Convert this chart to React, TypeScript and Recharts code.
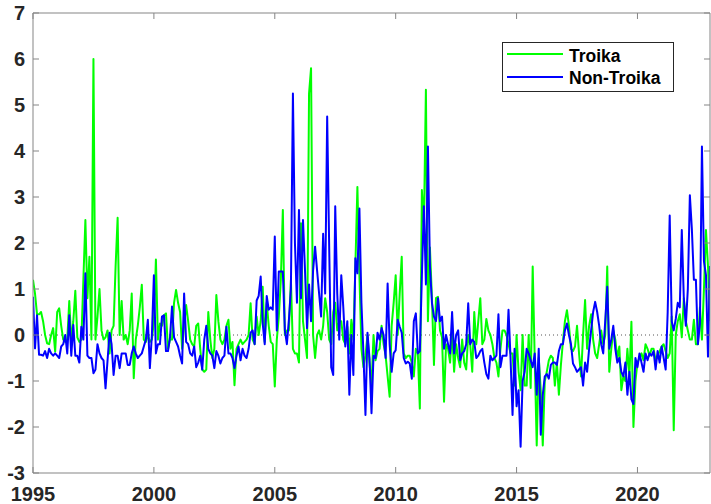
import React from "react";
import { LineChart, Line, XAxis, YAxis, ReferenceLine } from "recharts";

const START_YEAR = 1995;
const X_TICKS = [1995, 2000, 2005, 2010, 2015, 2020];
const Y_TICKS = [-3, -2, -1, 0, 1, 2, 3, 4, 5, 6, 7];

// Monthly values, Jan 1995 onwards
const troika: number[] = [
  1.2, 0.9, 0.45, 0.45, 0.5, 0.3, 0.0, -0.18, -0.2, 0.0, 0.15, -0.36,
  0.5, 0.58, 0.2, -0.1, -0.15, -0.1, 0.74, -0.15, 0.3, 0.96, -0.05, -0.15,
  -0.1, 1.2, 2.5, 0.8, 1.7, -0.1, 6.0, -0.1, 0.4, 1.0, 0.1, -0.1,
  -0.05, 0.1, -0.4, 0.1, 0.2, 1.5, 2.55, 0.0, 0.74, -0.1, 0.0, -0.2,
  0.1, 0.9, -0.94, -0.1, 0.2, 0.6, 1.09, -0.1, -0.15, 0.0, -0.15, -0.1,
  0.3, 1.64, -0.1, 0.25, 0.2, 0.43, 0.47, -0.3, -0.1, -0.1, 0.7, 0.98,
  0.7, 0.5, -0.3, 0.2, 0.65, 0.3, -0.1, -0.2, -0.25, 0.2, 0.25, -0.3,
  -0.75, -0.8, -0.75, 0.5, -0.1, -0.5, -0.3, 0.87, 0.3, -0.1, -0.2, -0.1,
  0.2, 0.33, -0.3, -0.15, -1.09, -0.3, -0.2, -0.1, -0.2, -0.15, -0.1, 0.0,
  0.69, -0.1, -0.2, 0.4, 0.0, 0.3, 1.05, -0.15, 0.7, 0.2, -0.15, -0.2,
  -1.12, -0.1, 0.4, 1.2, 2.72, 0.0, 0.1, 0.1, 1.2, -0.3, -0.4, -0.4,
  -0.6, 2.43, 0.3, -0.1, -0.5, 5.25, 5.8, 0.0, -0.5, 0.0, 0.1, -0.1,
  0.2, 0.8, 0.5, -0.1, -0.2, 0.5, 0.7, 0.1, 0.3, 0.3, -0.1, -0.2,
  0.18, -0.4, 0.33, -0.1, 1.5, 3.22, 1.3, -0.3, -0.7, -0.45, 0.0, -0.6,
  -1.12, 0.0, -0.55, -0.35, -0.3, 0.2, -0.2, -0.45, -0.9, -1.34, 0.2, 0.7,
  1.3, 0.0, 0.9, 1.7, -0.4, -0.5, -0.45, -0.45, -0.6, -0.9, -0.3, -0.4,
  -1.6, 3.15, 2.36, 5.33, 0.3, 1.9, 0.8, -0.65, 0.8, 0.83, 0.1, -0.05,
  -1.45, -0.2, -0.3, -0.6, 0.1, -0.8, -0.2, -0.5, -0.7, -0.1, -0.6, -0.75,
  0.0, -0.2, -0.8, 0.5, -0.2, 0.3, 0.8, -0.2, -0.1, 0.35, 0.1, 0.0,
  -0.2, -0.5, -0.6, -0.9, -0.3, 0.1, 0.1, 0.0, -0.2, -0.4, -0.4, -1.1,
  0.0, -0.8, -1.2, 0.0, -1.1, -1.1, 0.0, -1.15, 1.49, -0.5, -2.4, -0.5,
  -1.2, -2.4, -1.0, -0.8, -0.55, -0.45, -0.5, -1.1, -0.6, -1.3, -0.65, -0.15,
  0.3, 0.54, 0.2, -0.3, -0.35, -0.25, 0.2, -0.4, -0.9, 0.0, 0.76, -0.3,
  0.2, 0.45, -0.1, -0.4, -0.5, -0.2, 0.1, -0.2, 0.0, 1.49, -0.8, -0.3,
  0.1, -0.1, -0.5, -0.25, -1.2, -0.9, -1.0, -0.3, -0.9, 0.29, -2.0, -1.0,
  -0.6, -0.5, -0.4, -0.55, -0.2, -0.3, -0.45, -0.3, -0.3, -0.55, -0.45, -0.35,
  -0.25, -0.2, -0.35, -0.5, -0.4, 0.4, -2.07, 0.0, 0.3, 0.45, -0.05, 0.8,
  0.3, 0.1, -0.1, -0.1, 0.33, -0.2, -0.2, 0.6, -0.1, 1.0, 2.28, 1.5,
  0.3,
];

const nonTroika: number[] = [
  0.83, -0.29, 0.43, -0.43, -0.43, -0.45, -0.35, -0.5, -0.3, -0.4, -0.45, -0.4,
  -0.45, -0.5, -0.25, -0.2, 0.0, -0.4, 0.43, -0.45, 0.22, -0.45, -0.45, -0.6,
  0.18, -0.1, 1.34, -0.45, -0.5, -0.5, -0.83, -0.75, -0.2, -0.4, -0.5, -0.55,
  -1.16, -0.55, 0.05, -0.2, -0.87, -0.45, -0.45, -0.72, -0.4, -0.4, -0.4, -0.65,
  -0.65, -0.4, -0.25, -0.4, -0.5, -0.45, -0.4, -0.25, -0.1, 0.33, -0.72, 0.0,
  1.3, -0.4, -0.2, -0.2, 0.4, 0.43, -0.35, -0.35, -0.05, 0.62, -0.05, -0.15,
  -0.25, -0.45, -0.62, 0.9, -0.15, -0.2, -0.4, -0.45, -0.25, -0.7, -0.6, -0.45,
  -0.75, -0.1, 0.2, -0.3, -0.4, -0.45, -0.72, -0.35, -0.45, -0.62, -0.5, -0.45,
  0.18, -0.4, -0.4, -0.5, -0.72, -0.45, -0.25, -0.55, -0.3, -0.45, -0.5, -0.3,
  0.05, 0.1, -0.2, 0.75, 0.85, 1.27, 0.25, -0.2, 0.85, 0.55, 0.6, 0.55,
  2.14, 0.1, 1.38, 1.38, 1.38, 0.1, -0.2, 0.33, 1.0, 5.25, 2.0, 0.7,
  2.72, 0.8, 2.5, 1.4, 0.15, 1.1, 0.3, 1.4, 1.92, 1.4, 0.9, 0.4,
  2.2, 0.9, 4.75, 1.9, -0.7, -0.87, 2.8, 0.9, -0.1, 1.3, 0.6, -0.25,
  0.3, -1.3, 0.0, -0.87, 1.67, 1.34, 2.75, 0.7, -0.4, -1.74, 0.05, -0.5,
  -1.7, -0.45, -0.5, 0.05, -0.1, 0.15, 0.0, -0.5, 1.12, -0.2, -0.8, -0.4,
  -0.33, 0.33, 0.18, 0.05, -0.5, -0.62, -0.58, -0.62, -0.95, 0.3, 0.47, -0.4,
  -0.35, 1.27, 2.8, 1.1, 4.1, 1.5, 0.7, 0.4, 0.3, 0.8, 0.3, 0.4,
  -0.3, 0.0, -0.2, -0.4, 0.5, -0.4, 0.0, 0.1, -0.55, -0.4, -0.35, -0.2,
  0.69, -0.2, -0.1, -0.15, -0.5, -0.45, -0.35, -0.3, -0.6, -0.85, -0.95, -0.45,
  -0.55, -0.5, -0.45, 0.45, -0.7, -0.45, -0.45, -0.45, 0.55, -0.5, -1.74, -0.3,
  -1.55, -1.2, -2.43, -1.0, -0.8, -0.3, -0.4, -0.55, -0.7, -0.4, -1.3, -0.3,
  -2.17, -1.3, -0.9, -0.85, -0.95, -0.65, -0.6, -0.6, -0.65, -0.35, -0.2, -0.2,
  0.1, 0.25, 0.0, -0.2, -0.62, -0.7, -0.8, -0.75, -0.7, -1.1, -0.6, -0.8,
  -0.3, 0.1, 0.5, 0.72, 0.5, 0.2, -0.2, -0.4, 0.3, 1.05, -0.3, -0.1,
  0.2, -0.3, -0.6, -0.5, -0.8, -0.9, -0.6, -1.3, -0.8, -1.4, -1.5, -0.5,
  -0.7, -0.4, -0.6, -0.8, -0.4, -0.55, -0.4, -0.45, -0.35, -0.75, -0.35, -0.6,
  -0.25, -0.5, -0.75, 0.5, 2.6, 0.3, 0.1, 0.35, 0.7, 0.6, 2.28, 0.8,
  0.2, 1.0, 3.04, 2.3, 1.2, 1.2, -0.2, 0.25, 4.1, 1.6, 1.3, -0.47,
  1.5,
];

const data = troika.map((v, i) => ({
  t: START_YEAR + i / 12,
  troika: v,
  nonTroika: nonTroika[i],
}));

const AXIS = "#858585";
const TEXT = "#262626";
const FONT = "'Liberation Sans', Arial, Helvetica, sans-serif";
const TICK_LEN = 6;

const BottomTick = (p: any) => (
  <g>
    <line x1={p.x} x2={p.x} y1={p.y} y2={p.y - TICK_LEN} stroke={AXIS} strokeWidth={1} />
    <text x={p.x} y={p.y + 28} textAnchor="middle" fontFamily={FONT} fontWeight="bold" fontSize={20} fill={TEXT}>
      {p.payload.value}
    </text>
  </g>
);

const TopTick = (p: any) => (
  <line x1={p.x} x2={p.x} y1={p.y} y2={p.y + TICK_LEN} stroke={AXIS} strokeWidth={1} />
);

const LeftTick = (p: any) => (
  <g>
    <line x1={p.x} x2={p.x + TICK_LEN} y1={p.y} y2={p.y} stroke={AXIS} strokeWidth={1} />
    <text x={p.x - 8} y={p.y + 7} textAnchor="end" fontFamily={FONT} fontWeight="bold" fontSize={20} fill={TEXT}>
      {p.payload.value}
    </text>
  </g>
);

const RightTick = (p: any) => (
  <line x1={p.x} x2={p.x - TICK_LEN} y1={p.y} y2={p.y} stroke={AXIS} strokeWidth={1} />
);

export default function App() {
  return (
    <div style={{ position: "absolute", left: 0, top: 0, width: 711, height: 504, background: "#fff" }}>
      <LineChart width={711} height={504} data={data} margin={{ top: 12, right: 0, bottom: 0, left: 0 }}>
        <XAxis
          xAxisId="b"
          dataKey="t"
          type="number"
          domain={[1995, 2023]}
          ticks={X_TICKS}
          interval={0}
          allowDataOverflow
          height={31}
          tickSize={0}
          tickMargin={0}
          tickLine={false}
          axisLine={{ stroke: AXIS }}
          tick={BottomTick}
        />
        <XAxis
          xAxisId="t"
          orientation="top"
          dataKey="t"
          type="number"
          domain={[1995, 2023]}
          ticks={X_TICKS}
          interval={0}
          allowDataOverflow
          height={1}
          tickSize={0}
          tickMargin={0}
          tickLine={false}
          axisLine={{ stroke: AXIS }}
          tick={TopTick}
        />
        <YAxis
          yAxisId="l"
          type="number"
          domain={[-3, 7]}
          ticks={Y_TICKS}
          interval={0}
          allowDataOverflow
          width={33}
          tickSize={0}
          tickMargin={0}
          tickLine={false}
          axisLine={{ stroke: AXIS }}
          tick={LeftTick}
        />
        <YAxis
          yAxisId="r"
          orientation="right"
          type="number"
          domain={[-3, 7]}
          ticks={Y_TICKS}
          interval={0}
          allowDataOverflow
          width={1}
          tickSize={0}
          tickMargin={0}
          tickLine={false}
          axisLine={{ stroke: AXIS }}
          tick={RightTick}
        />
        <ReferenceLine xAxisId="b" yAxisId="l" y={0} stroke="#555" strokeWidth={1} strokeDasharray="1 3" />
        <Line
          xAxisId="b"
          yAxisId="l"
          type="linear"
          dataKey="troika"
          name="Troika"
          stroke="#00ff00"
          strokeWidth={2}
          dot={false}
          strokeLinejoin="round"
          isAnimationActive={false}
        />
        <Line
          xAxisId="t"
          yAxisId="r"
          type="linear"
          dataKey="nonTroika"
          name="Non-Troika"
          stroke="#0000ff"
          strokeWidth={2}
          dot={false}
          strokeLinejoin="round"
          isAnimationActive={false}
        />
      </LineChart>
      <svg width={711} height={504} style={{ position: "absolute", left: 0, top: 0, pointerEvents: "none" }}>
        <rect x={502.5} y={42.5} width={171} height={49} fill="#fff" stroke={TEXT} strokeWidth={1} />
        <line x1={507} x2={563} y1={54} y2={54} stroke="#00ff00" strokeWidth={2} />
        <line x1={507} x2={563} y1={77} y2={77} stroke="#0000ff" strokeWidth={2} />
        <text x={569} y={62} fontFamily={FONT} fontWeight="bold" fontSize={17.5} fill="#000">Troika</text>
        <text x={569} y={83.5} fontFamily={FONT} fontWeight="bold" fontSize={17.5} fill="#000">Non-Troika</text>
      </svg>
    </div>
  );
}
